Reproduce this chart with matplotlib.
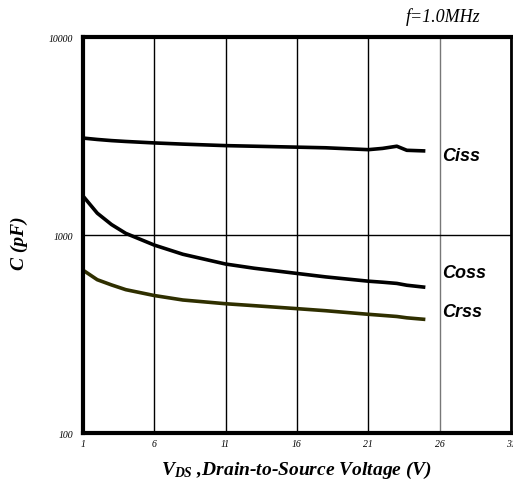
import matplotlib
matplotlib.use('Agg')
import matplotlib.pyplot as plt

plt.rcParams['mathtext.fontset'] = 'custom'
plt.rcParams['mathtext.it'] = 'Liberation Serif:bold:italic'
plt.rcParams['mathtext.rm'] = 'Liberation Serif:bold:italic'

# values (V, pF)
vds = [1, 2, 3, 4, 6, 8, 11, 13, 16, 18, 21, 22, 23, 23.7, 25]
ciss = [3090, 3040, 3000, 2970, 2920, 2880, 2830, 2810, 2780, 2760, 2700, 2740, 2810, 2680, 2660]
coss = [1575, 1290, 1130, 1020, 890, 800, 714, 680, 640, 615, 585, 578, 570, 558, 545]
crss = [665, 595, 560, 530, 495, 470, 450, 440, 425, 415, 398, 393, 388, 382, 375]

x_ticks = [1, 6, 11, 16, 21, 26, 31]
y_ticks = [100, 1000, 10000]

fig = plt.figure(figsize=(5.13, 4.85), dpi=100)
ax = fig.add_axes([0.1618, 0.105, 0.8342, 0.8165])

ax.plot(vds, ciss, color='black', lw=2.6, solid_capstyle='butt')
ax.plot(vds, coss, color='black', lw=2.6, solid_capstyle='butt')
ax.plot(vds, crss, color='#2f2f00', lw=2.6, solid_capstyle='butt')

ax.set_yscale('log')
ax.set_xlim(1, 31)
ax.set_ylim(100, 10000)
ax.set_xticks(x_ticks)
ax.set_yticks(y_ticks)
ax.minorticks_off()
ax.set_xticklabels([str(t) for t in x_ticks], fontfamily='Liberation Serif', fontstyle='italic', fontsize=7)
ax.set_yticklabels([str(t) for t in y_ticks], fontfamily='Liberation Serif', fontstyle='italic', fontsize=7)
ax.tick_params(axis='x', length=0, pad=4)
ax.tick_params(axis='y', length=0, pad=7)

ax.grid(True, which='major', color='black', lw=1.0)
for gl, t in zip(ax.get_xgridlines(), x_ticks):
    if t == 26:
        gl.set_color('#777777')

for s in ax.spines.values():
    s.set_linewidth(3)
ax.spines['right'].set_linewidth(2)

lab = dict(fontfamily='Liberation Sans', fontweight='bold', fontstyle='italic', fontsize=13)
ax.text(26.2, 2535, 'Ciss', va='center', ha='left', **lab)
ax.text(26.2, 650, 'Coss', va='center', ha='left', **lab)
ax.text(26.2, 413, 'Crss', va='center', ha='left', **lab)

ax.set_xlabel(r'$V_{DS}$ ,Drain-to-Source Voltage (V)', fontfamily='Liberation Serif',
              fontweight='bold', fontstyle='italic', fontsize=14, labelpad=8)
ax.set_ylabel('C (pF)', fontfamily='Liberation Serif', fontweight='bold',
              fontstyle='italic', fontsize=14)
ax.yaxis.set_label_coords(-0.128, 0.482)

fig.text(0.937, 0.965, 'f=1.0MHz', ha='right', va='center', fontfamily='Liberation Serif',
         fontstyle='italic', fontsize=13)

fig.savefig('out.png', dpi=100)
